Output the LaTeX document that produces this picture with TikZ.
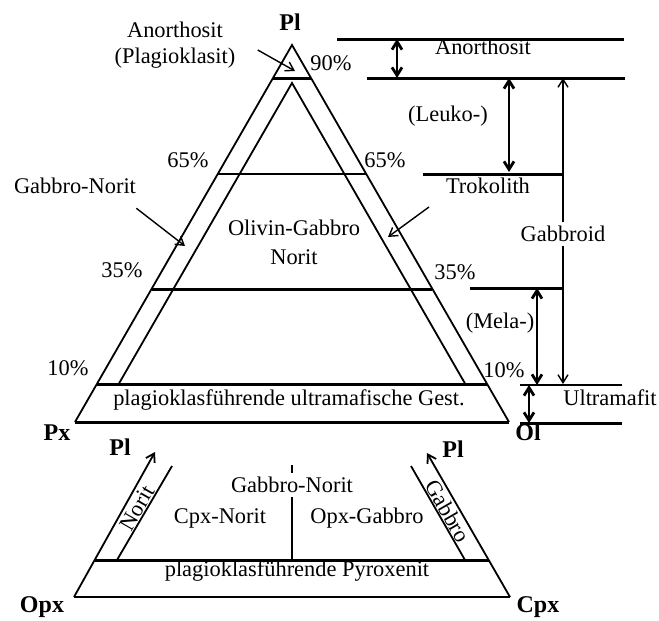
\documentclass[tikz,border=0pt]{standalone}
\usepackage{fontspec}
\setmainfont{Liberation Serif}
\usetikzlibrary{arrows.meta,positioning,calc}
\tikzset{
  thk/.style={line width=1.5pt},
  mid/.style={line width=0.9pt},
  thn/.style={line width=0.7pt},
  ar/.style={-{Straight Barb[length=4pt,width=5pt]},line width=0.7pt},
  dar/.style={{Straight Barb[length=4pt,width=5pt]}-{Straight Barb[length=4pt,width=5pt]},line width=1.4pt},
  vx/.style={font=\fontsize{12}{14}\selectfont\bfseries,inner sep=1pt},
  lbl/.style={inner sep=1pt},
  gap/.style={fill=white,inner sep=2pt}
}
\begin{document}
\begin{tikzpicture}[x=0.5pt,y=-0.5pt,font=\fontsize{11.2}{14.5}\selectfont]
\useasboundingbox (0,0) rectangle (659,621);
% upper triangle
\coordinate (T) at (292,45);
\coordinate (Px) at (75,422);
\coordinate (Ol) at (509,422);
\coordinate (iT) at (292,83);
\coordinate (iL) at (118.7,384);
\coordinate (iR) at (465.3,384);
\draw[mid] (Px)--(T)--(Ol);
\draw[thk] (Px)--(Ol);
\draw[mid] (iL)--(iT)--(iR);
\draw[thk] (273,78)--(311,78);
\draw[thn] (217.7,174)--(366.3,174);
\draw[thk] (151.6,289)--(432.4,289);
\draw[thk] (96.9,384)--(487.1,384);
\node[vx] (pl) at (290,22) {Pl};
\node[vx] (px) at (57,433) {Px};
\node[vx] (ol) at (528,432) {Ol};
\node[lbl] (p90) at (331,63) {90\%};
\node[lbl] (p65l) at (188,160) {65\%};
\node[lbl] (p65r) at (385,160) {65\%};
\node[lbl] (p35l) at (122,270) {35\%};
\node[lbl] (p35r) at (455,272) {35\%};
\node[lbl] (p10l) at (68,368) {10\%};
\node[lbl] (p10r) at (504,370) {10\%};
\node[lbl] (an) at (175,30) {Anorthosit};
\node[lbl] (pk) at (175,58) {(Plagioklasit)};
\coordinate (an-tip) at (295,71);
\draw[ar] ([xshift=10pt,yshift=4pt]pk.east) -- (an-tip);
\node[lbl] (gnl) at (75,186) {Gabbro-Norit};
\coordinate (gnl-tip) at (185,246);
\draw[ar] ([xshift=-1pt,yshift=-6pt]gnl.south east) -- (gnl-tip);
\coordinate (gnr-from) at (429,207);
\coordinate (gnr-tip) at (388,237);
\draw[ar] (gnr-from) -- (gnr-tip);
\node[lbl,align=center] (ogn) at (294,242) {Olivin-Gabbro\\Norit};
\node[lbl] (um) at (289,400) {plagioklasführende ultramafische Gest.};
% right scale
\draw[thk] (337,39)--(624,39);
\draw[thk] (367,78)--(625,78);
\draw[thk] (423,174)--(563,174);
\draw[thk] (470,288)--(563,288);
\draw[mid] (520,385)--(622,385);
\draw[thk] (520,423)--(622,423);
\draw[dar] (397,39)--(397,78);
\draw[dar] (509,78)--(509,172);
\draw[dar] (537,288)--(537,385);
\draw[dar] (529,385)--(529,423);
\node[lbl] (an2) at (483,47) {Anorthosit};
\node[lbl] (leu) at (448,116) {(Leuko-)};
\node[lbl] (tro) at (488,186) {Trokolith};
\node[lbl] (mel) at (500,323) {(Mela-)};
\node[lbl] (umf) at (610,398) {Ultramafit};
\coordinate (gb-top) at (563,78);
\coordinate (gb-bot) at (563,384);
\draw[ar,{Straight Barb[length=4pt,width=5pt]}-{Straight Barb[length=4pt,width=5pt]}] (gb-top) -- (gb-bot)
  node[pos=0.51,gap] (gbr) {Gabbroid};
% lower triangle
\coordinate (Opx) at (74,597);
\coordinate (Cpx) at (510,597);
\coordinate (lt) at (155,452);
\coordinate (rt) at (427,453);
\draw[thn] (Opx)--(Cpx);
\draw[ar,line width=0.9pt] (Opx)--(lt);
\draw[ar,line width=0.9pt] (Cpx)--(rt);
\draw[thk] (95,560)--(489,560);
\draw[mid] (117,560)--(172,466);
\draw[mid] (465,560)--(411,466);
\node[vx] (opx) at (42,607) {Opx};
\node[vx] (cpx) at (538,607) {Cpx};
\node[vx] (pll) at (120,447) {Pl};
\node[vx] (plr) at (453,449) {Pl};
\node[lbl,rotate=60] (nor) at (137,508) {Norit};
\node[lbl,rotate=-60] (gab) at (448,511) {Gabbro};
\coordinate (cl-top) at (292,465);
\coordinate (cl-bot) at (292,560);
\draw[thn] (cl-top) -- (cl-bot) node[pos=0.21,gap] (gnb) {Gabbro-Norit};
\node[lbl] (cn) at (220,518) {Cpx-Norit};
\node[lbl] (og) at (367,518) {Opx-Gabbro};
\node[lbl] (py) at (297,571) {plagioklasführende Pyroxenit};
\end{tikzpicture}
\end{document}
